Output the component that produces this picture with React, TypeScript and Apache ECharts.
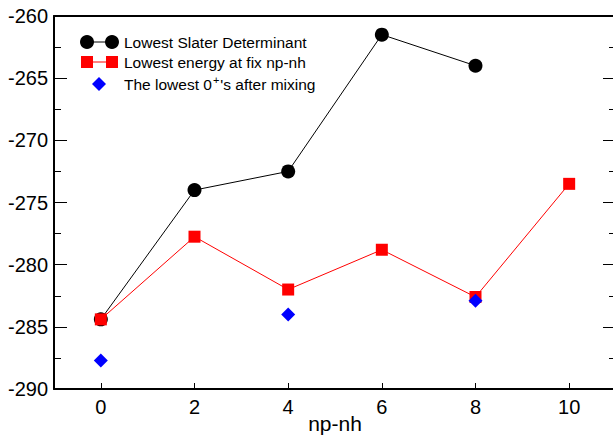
import React, { useEffect, useRef } from "react";
import * as echarts from "echarts";

const slaterX = [0, 2, 4, 6, 8];
const slaterE = [-284.4, -274.0, -272.5, -261.5, -264.0];
const fixX = [0, 2, 4, 6, 8, 10];
const fixE = [-284.4, -277.75, -282.0, -278.8, -282.6, -273.5];
const mixX = [0, 4, 8];
const mixE = [-287.7, -284.0, -282.9];
const xTicks = [0, 2, 4, 6, 8, 10];
const legendNames = ["Lowest Slater Determinant", "Lowest energy at fix np-nh"];

const FONT = "Liberation Sans, Arial, sans-serif";

export default function App() {
  const ref = useRef<HTMLDivElement>(null);
  useEffect(() => {
    const chart = echarts.init(ref.current!, undefined, { renderer: "svg" });
    const pairs = (xs: number[], ys: number[]) => xs.map((x, i) => [x, ys[i]]);
    const lx = 87, rx = 112;
    chart.setOption({
      animation: false,
      backgroundColor: "#fff",
      textStyle: { fontFamily: FONT },
      grid: { left: 54, top: 16, width: 562, height: 373, containLabel: false, outerBoundsMode: "none" },
      xAxis: [
        {
          type: "value",
          min: -1,
          max: 11,
          position: "bottom",
          axisLine: { onZero: false, lineStyle: { color: "#000", width: 2 } },
          axisTick: { inside: true, length: 6, customValues: xTicks, lineStyle: { color: "#000", width: 1 } },
          axisLabel: { customValues: xTicks, fontSize: 20, color: "#000", margin: 8, fontFamily: FONT },
          splitLine: { show: false },
          name: "np-nh",
          nameLocation: "middle",
          nameGap: 24,
          nameMoveOverlap: false,
          nameTextStyle: { fontSize: 21, color: "#000", fontFamily: FONT },
        },
        {
          type: "value",
          min: -1,
          max: 11,
          position: "top",
          axisLine: { onZero: false, lineStyle: { color: "#000", width: 2 } },
          axisTick: { show: false },
          axisLabel: { show: false },
          splitLine: { show: false },
        },
      ],
      yAxis: [
        {
          type: "value",
          min: -290,
          max: -260,
          interval: 5,
          position: "left",
          axisLine: { show: true, onZero: false, lineStyle: { color: "#000", width: 2 } },
          axisTick: { show: true, inside: true, length: 13, lineStyle: { color: "#000", width: 1 } },
          minorTick: { show: true, splitNumber: 2, length: 7, lineStyle: { color: "#000", width: 1 } },
          axisLabel: { fontSize: 20, color: "#000", margin: 6, fontFamily: FONT },
          splitLine: { show: false },
        },
        {
          type: "value",
          min: -290,
          max: -260,
          interval: 5,
          position: "right",
          axisLine: { show: true, onZero: false, lineStyle: { color: "#000", width: 2 } },
          axisTick: { show: true, inside: true, length: 13, lineStyle: { color: "#000", width: 1 } },
          minorTick: { show: true, splitNumber: 2, length: 7, lineStyle: { color: "#000", width: 1 } },
          axisLabel: { show: false },
          splitLine: { show: false },
        },
      ],
      series: [
        {
          name: legendNames[0],
          type: "line",
          data: pairs(slaterX, slaterE),
          symbol: "circle",
          symbolSize: 14,
          itemStyle: { color: "#000", opacity: 1 },
          lineStyle: { color: "#000", width: 1 },
          z: 2,
        },
        {
          name: legendNames[1],
          type: "line",
          data: pairs(fixX, fixE),
          symbol: "rect",
          symbolSize: 12,
          itemStyle: { color: "#ff0000", opacity: 1 },
          lineStyle: { color: "#ff0000", width: 1 },
          z: 3,
        },
        {
          name: "The lowest 0+'s after mixing",
          type: "scatter",
          data: pairs(mixX, mixE),
          symbol: "diamond",
          symbolSize: 14,
          itemStyle: { color: "#0000ff", opacity: 1 },
          z: 4,
        },
      ],
      graphic: [
        { type: "line", shape: { x1: lx, y1: 42, x2: rx, y2: 42 }, style: { stroke: "#000", lineWidth: 1 } },
        { type: "circle", shape: { cx: lx, cy: 42, r: 7 }, style: { fill: "#000" } },
        { type: "circle", shape: { cx: rx, cy: 42, r: 7 }, style: { fill: "#000" } },
        { type: "text", x: 124, y: 42, style: { text: legendNames[0], fontSize: 15.5, fontFamily: FONT, fill: "#000", verticalAlign: "middle" } },
        { type: "line", shape: { x1: lx, y1: 62, x2: rx, y2: 62 }, style: { stroke: "#ff0000", lineWidth: 1 } },
        { type: "rect", shape: { x: lx - 6, y: 56, width: 12, height: 12 }, style: { fill: "#ff0000" } },
        { type: "rect", shape: { x: rx - 6, y: 56, width: 12, height: 12 }, style: { fill: "#ff0000" } },
        { type: "text", x: 124, y: 62, style: { text: legendNames[1], fontSize: 15.5, fontFamily: FONT, fill: "#000", verticalAlign: "middle" } },
        { type: "polygon", shape: { points: [[99, 77], [106, 84], [99, 91], [92, 84]] }, style: { fill: "#0000ff" } },
        {
          type: "text",
          x: 124,
          y: 84,
          style: {
            text: "{a|The lowest 0}{s|+}{a|'s after mixing}",
            fontFamily: FONT,
            fill: "#000",
            verticalAlign: "middle",
            rich: {
              a: { fontSize: 15.5, fontFamily: FONT, color: "#000" },
              s: { fontSize: 11, fontFamily: FONT, color: "#000", verticalAlign: "top", padding: [0, 1, 8, 1] },
            },
          },
        },
      ],
    });
    return () => chart.dispose();
  }, []);
  return <div ref={ref} style={{ position: "fixed", left: 0, top: 0, width: 613, height: 438 }} />;
}
